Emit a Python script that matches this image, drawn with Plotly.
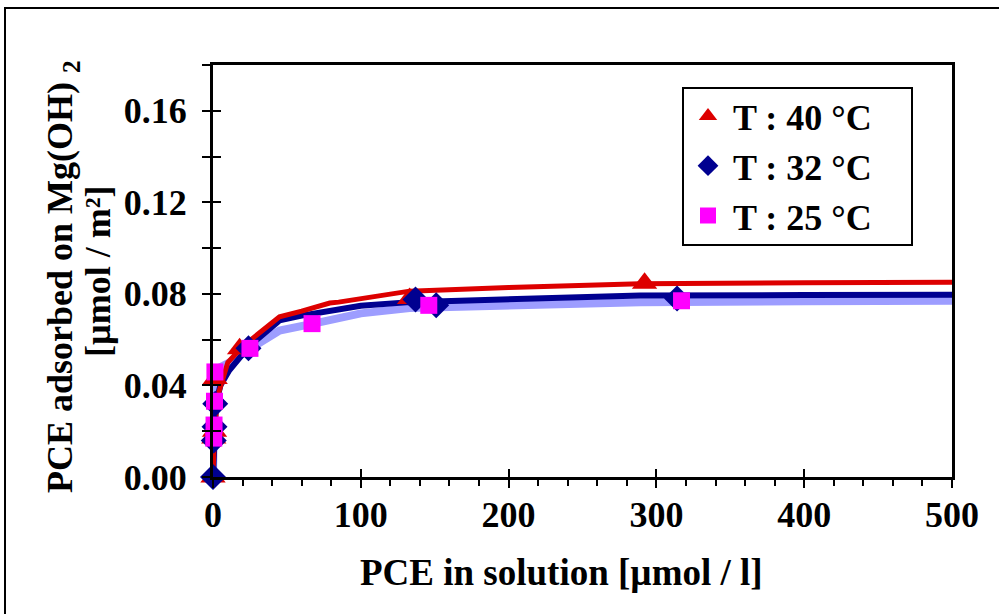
import plotly.graph_objects as go

# ---- data ----
# measured points
x40 = [0, 0.5, 1.0, 1.5, 18, 133, 292]
y40 = [0.0, 0.017, 0.020, 0.043, 0.056, 0.078, 0.0846]

x32 = [0, 0.5, 1.0, 1.5, 24, 137, 151, 314]
y32 = [0.0, 0.016, 0.022, 0.032, 0.0562, 0.0776, 0.075, 0.078]

x25 = [0.5, 0.7, 1.0, 1.3, 25, 67, 146, 317]
y25 = [0.017, 0.0227, 0.0331, 0.0459, 0.0562, 0.067, 0.075, 0.077]

# fitted curves
fx40 = [0, 1, 3, 10, 20, 45, 60, 79, 85, 100, 133, 200, 289, 400, 500]
fy40 = [0.0, 0.020, 0.035, 0.050, 0.057, 0.070, 0.0725, 0.0760, 0.0764, 0.0780, 0.0812, 0.0828, 0.0844, 0.0849, 0.0851]

fx32 = [0, 0.5, 2, 5, 11, 25, 45, 60, 79, 85, 100, 133, 200, 289, 400, 500]
fy32 = [0.0, 0.016, 0.032, 0.040, 0.0466, 0.0575, 0.0684, 0.0705, 0.0725, 0.0737, 0.0748, 0.0764, 0.0775, 0.0793, 0.0795, 0.0796]

fx25 = [0, 0.6, 1, 5, 11, 25, 45, 68, 79, 85, 100, 133, 200, 289, 400, 500]
fy25 = [0.0, 0.019, 0.045, 0.048, 0.050, 0.056, 0.064, 0.067, 0.0687, 0.0700, 0.0715, 0.0738, 0.0748, 0.0764, 0.0768, 0.0770]

legend_names = ["T : 40 °C", "T : 32 °C", "T : 25 °C"]
x_title = "PCE in solution [µmol / l]"
y_title_1 = "PCE adsorbed on Mg(OH) <sub>2</sub>"
y_title_2 = "[µmol / m²]"

RED = "#dd0000"
NAVY = "#000090"
MAG = "#ff00ff"
LBLUE = "#9d9dff"
FONT = "Liberation Serif"

# pixel helpers for placing layout items (plot area 213..952 x 65..477)
PL, PR, PT, PB = 213, 952, 65, 477
def px(x):
    return (x - PL) / (PR - PL)
def py(y):
    return (PB - y) / (PB - PT)

fig = go.Figure()

# fitted lines
fig.add_trace(go.Scatter(x=fx25, y=fy25, mode="lines", line=dict(color=LBLUE, width=8),
                         showlegend=False, hoverinfo="skip", cliponaxis=False))
fig.add_trace(go.Scatter(x=fx32, y=fy32, mode="lines", line=dict(color=NAVY, width=6),
                         showlegend=False, hoverinfo="skip", cliponaxis=False))
fig.add_trace(go.Scatter(x=fx40, y=fy40, mode="lines", line=dict(color=RED, width=5),
                         showlegend=False, hoverinfo="skip", cliponaxis=False))

# markers
fig.add_trace(go.Scatter(x=x40, y=y40, mode="markers", name=legend_names[0], cliponaxis=False,
                         marker=dict(symbol="triangle-up", size=22, color=RED)))
fig.add_trace(go.Scatter(x=x32, y=y32, mode="markers", name=legend_names[1], cliponaxis=False,
                         marker=dict(symbol="diamond", size=20, color=NAVY)))
fig.add_trace(go.Scatter(x=x25, y=y25, mode="markers", name=legend_names[2], cliponaxis=False,
                         marker=dict(symbol="square", size=17, color=MAG)))

# invisible trace to drive overlay axes (crossing ticks)
fig.add_trace(go.Scatter(x=[0, 500], y=[0, 0.18], xaxis="x2", yaxis="y2", mode="markers",
                         marker=dict(opacity=0), showlegend=False, hoverinfo="skip"))

tickfont = dict(family=FONT, size=36, color="black", weight="bold")
titlefont = dict(family=FONT, size=36, color="black", weight="bold")

fig.update_layout(
    width=999, height=614,
    margin=dict(l=213, r=47, t=65, b=137),
    paper_bgcolor="white", plot_bgcolor="white",
    font=dict(family=FONT, color="black"),
    xaxis=dict(range=[0, 500], dtick=100, tick0=0, ticks="outside", ticklen=8, tickwidth=2,
               tickcolor="black", showline=True, linewidth=3, linecolor="black",
               mirror=True, showgrid=False, zeroline=False, tickfont=tickfont,
               ticklabelstandoff=-4,
               minor=dict(dtick=20, ticks="outside", ticklen=6, tickwidth=2, tickcolor="black")),
    yaxis=dict(range=[0, 0.18], dtick=0.04, tick0=0, tickformat=".2f", ticks="outside",
               ticklen=8, tickwidth=2, tickcolor="black", showline=True, linewidth=3,
               linecolor="black", mirror=True, showgrid=False, zeroline=False,
               tickfont=tickfont, ticklabelstandoff=8,
               minor=dict(dtick=0.02, ticks="outside", ticklen=8, tickwidth=2, tickcolor="black")),
    xaxis2=dict(range=[0, 500], overlaying="x", anchor="y2", side="bottom", dtick=100, tick0=0,
                ticks="inside", ticklen=8, tickwidth=2, tickcolor="black",
                showticklabels=False, showline=False, showgrid=False, zeroline=False),
    yaxis2=dict(range=[0, 0.18], overlaying="y", anchor="x2", side="left", dtick=0.02, tick0=0,
                ticks="inside", ticklen=8, tickwidth=2, tickcolor="black",
                showticklabels=False, showline=False, showgrid=False, zeroline=False),
    legend=dict(x=px(683), y=py(86), xanchor="left", yanchor="top", bgcolor="rgba(0,0,0,0)",
                borderwidth=0, itemwidth=40,
                font=dict(family=FONT, size=36, color="black", weight="bold")),
    shapes=[
        dict(type="rect", xref="paper", yref="paper", x0=px(5), x1=px(1010),
             y0=py(630), y1=py(8), line=dict(color="black", width=2)),
        dict(type="rect", xref="paper", yref="paper", x0=px(683), x1=px(912),
             y0=py(245), y1=py(88), line=dict(color="black", width=2),
             fillcolor="rgba(0,0,0,0)", layer="above"),
    ],
    annotations=[
        dict(text=y_title_1, xref="paper", yref="paper", x=px(62), y=py(277),
             textangle=-90, showarrow=False, xanchor="center", yanchor="middle",
             font=titlefont),
        dict(text=y_title_2, xref="paper", yref="paper", x=px(98), y=py(271),
             textangle=-90, showarrow=False, xanchor="center", yanchor="middle",
             font=titlefont),
        dict(text=x_title, xref="paper", yref="paper", x=px(561), y=py(572),
             showarrow=False, xanchor="center", yanchor="middle",
             font=dict(family=FONT, size=37, color="black", weight="bold")),
    ],
)

fig.write_html("out.html", config={"displayModeBar": False},
               post_script="document.body.style.margin='0';")
